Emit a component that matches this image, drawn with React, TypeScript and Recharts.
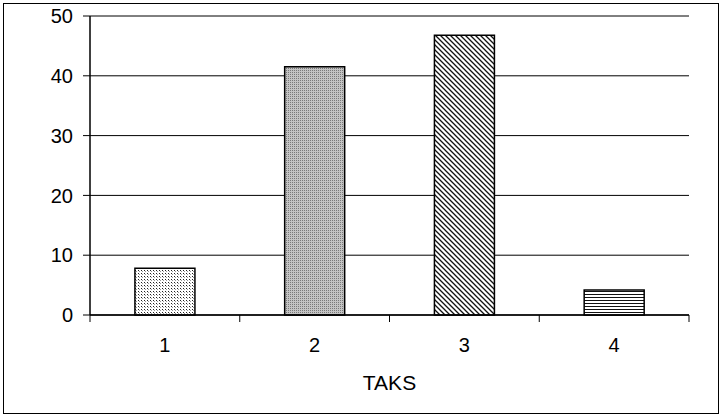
import { BarChart, Bar, Cell, XAxis, YAxis, CartesianGrid } from 'recharts';

const categories = [1, 2, 3, 4];
const values = [7.8, 41.5, 46.8, 4.2];
const yTicks = [0, 10, 20, 30, 40, 50];
const boundaryTicks = [0.5, 1.5, 2.5, 3.5, 4.5];
const fills = ['url(#dots)', 'url(#grain)', 'url(#hatch)', 'url(#hlines)'];

const data = categories.map((c, i) => ({ cat: c, value: values[i] }));

const font = '"Liberation Sans", Arial, sans-serif';

export default function App() {
  return (
    <div style={{ position: 'absolute', left: 0, top: 0, width: 722, height: 417, background: '#fff' }}>
      <div
        style={{
          position: 'absolute',
          left: 3,
          top: 3,
          width: 714,
          height: 409,
          border: '1px solid #000',
        }}
      />
      <div style={{ position: 'absolute', left: 0, top: 0 }}>
        <BarChart
          width={722}
          height={417}
          data={data}
          margin={{ top: 16, right: 33, bottom: 0, left: 0 }}
          barCategoryGap="30%"
          style={{ fontFamily: font }}
        >
          <defs>
            <pattern id="dots" width="3" height="3" patternUnits="userSpaceOnUse">
              <rect width="3" height="3" fill="#fff" />
              <rect width="1" height="1" fill="#222" />
              <rect x="1" y="1" width="1" height="1" fill="#999" />
            </pattern>
            <pattern id="grain" width="2" height="2" patternUnits="userSpaceOnUse">
              <rect width="2" height="2" fill="#c4c4c4" />
              <rect width="1" height="1" fill="#7a7a7a" />
            </pattern>
            <pattern id="hatch" width="5" height="5" patternUnits="userSpaceOnUse">
              <rect width="5" height="5" fill="#fff" />
              <path d="M0,0 L5,5 M-1,4 L1,6 M4,-1 L6,1" stroke="#111" strokeWidth="1.3" />
            </pattern>
            <pattern id="hlines" width="4" height="3" patternUnits="userSpaceOnUse">
              <rect width="4" height="3" fill="#fff" />
              <rect width="4" height="1" fill="#111" />
            </pattern>
          </defs>
          <CartesianGrid vertical={false} stroke="#000" strokeWidth={1} />
          {/* tick marks sit between categories, like the spreadsheet original */}
          <XAxis
            xAxisId="a_ticks"
            type="number"
            dataKey="cat"
            domain={[0.5, 4.5]}
            ticks={boundaryTicks}
            tickFormatter={() => ''}
            tickSize={7}
            height={8}
            axisLine={{ stroke: '#000', strokeWidth: 1.5 }}
            tickLine={{ stroke: '#000' }}
          />
          <XAxis
            xAxisId="b_labels"
            type="number"
            dataKey="cat"
            domain={[0.5, 4.5]}
            ticks={categories}
            axisLine={false}
            tickLine={false}
            tickMargin={9}
            height={94}
            fontSize={20}
            tick={{ fill: '#000', fontSize: 20 }}
            label={{ value: 'TAKS', position: 'insideBottom', offset: 27, fill: '#000', fontSize: 21 }}
          />
          <YAxis
            domain={[0, 50]}
            ticks={yTicks}
            width={90}
            tickSize={7}
            tickMargin={10}
            fontSize={20}
            axisLine={{ stroke: '#000', strokeWidth: 1.5 }}
            tickLine={{ stroke: '#000' }}
            tick={{ fill: '#000', fontSize: 20 }}
          />
          <YAxis
            yAxisId="right"
            orientation="right"
            width={0}
            tick={false}
            tickLine={false}
            axisLine={{ stroke: '#000' }}
          />
          <Bar dataKey="value" xAxisId="b_labels" stroke="#000" strokeWidth={1.5} isAnimationActive={false}>
            {data.map((d, i) => (
              <Cell key={d.cat} fill={fills[i]} />
            ))}
          </Bar>
        </BarChart>
      </div>
    </div>
  );
}
